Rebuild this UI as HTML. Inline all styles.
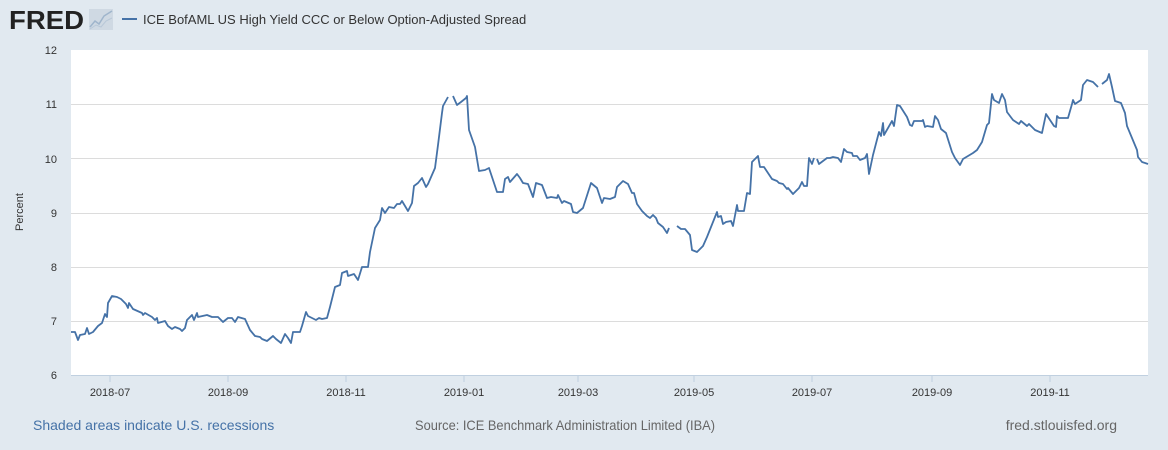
<!DOCTYPE html>
<html><head><meta charset="utf-8"><style>
html,body{margin:0;padding:0;background:#e1e9f0;}
svg{display:block;font-family:"Liberation Sans",Arial,sans-serif;}
</style></head><body>
<svg width="1168" height="450" viewBox="0 0 1168 450" xmlns="http://www.w3.org/2000/svg">
<rect width="1168" height="450" fill="#e1e9f0"/>
<text x="9" y="29" font-size="26" font-weight="bold" fill="#222" textLength="75" lengthAdjust="spacingAndGlyphs">FRED</text>
<rect x="89" y="9" width="24" height="21" fill="#cfd9e3"/>
<polyline points="90,27 95,21 99,24 104,16 112,11" fill="none" stroke="#9fb5cc" stroke-width="1.5"/>
<polyline points="90,29 96,25 101,27 106,21 112,18" fill="none" stroke="#b8c8d8" stroke-width="1"/>
<line x1="122" y1="19" x2="137" y2="19" stroke="#4572a7" stroke-width="2"/>
<text x="143" y="24" font-size="13" fill="#333">ICE BofAML US High Yield CCC or Below Option-Adjusted Spread</text>
<rect x="71" y="50" width="1077" height="325" fill="#fff"/>
<g stroke="#dcdcdc" stroke-width="1">
<line x1="71" y1="104.5" x2="1148" y2="104.5"/>
<line x1="71" y1="158.5" x2="1148" y2="158.5"/>
<line x1="71" y1="213.5" x2="1148" y2="213.5"/>
<line x1="71" y1="267.5" x2="1148" y2="267.5"/>
<line x1="71" y1="321.5" x2="1148" y2="321.5"/>
</g>
<line x1="71" y1="375.5" x2="1148" y2="375.5" stroke="#c0d0e0"/>
<g stroke="#c0d0e0">
<line x1="110" y1="375" x2="110" y2="382"/><line x1="228" y1="375" x2="228" y2="382"/>
<line x1="346" y1="375" x2="346" y2="382"/><line x1="464" y1="375" x2="464" y2="382"/>
<line x1="578" y1="375" x2="578" y2="382"/><line x1="694" y1="375" x2="694" y2="382"/>
<line x1="812" y1="375" x2="812" y2="382"/><line x1="932" y1="375" x2="932" y2="382"/>
<line x1="1050" y1="375" x2="1050" y2="382"/>
</g>
<g font-size="11" fill="#333" text-anchor="end">
<text x="57" y="54">12</text><text x="57" y="108">11</text><text x="57" y="163">10</text>
<text x="57" y="217">9</text><text x="57" y="271">8</text><text x="57" y="325">7</text><text x="57" y="379">6</text>
</g>
<g font-size="11" fill="#333" text-anchor="middle">
<text x="110" y="396">2018-07</text><text x="228" y="396">2018-09</text><text x="346" y="396">2018-11</text>
<text x="464" y="396">2019-01</text><text x="578" y="396">2019-03</text><text x="694" y="396">2019-05</text>
<text x="812" y="396">2019-07</text><text x="932" y="396">2019-09</text><text x="1050" y="396">2019-11</text>
</g>
<text transform="translate(23,212) rotate(-90)" font-size="11" fill="#333" text-anchor="middle">Percent</text>
<g fill="none" stroke="#4572a7" stroke-width="1.8" stroke-linejoin="round">
<polyline points="71,332 75,332 78,340 80,335 85,334 87,328 89,334 93,332 98,326 102,323 105,314 107,317 108,303 112,296 117,297 121,299 126,304 128,308 129,303 133,309 142,313 143,315 145,313 152,317 155,320 157,318 158,323 165,321 168,326 172,329 175,327 180,329 182,331 185,328 187,320 192,315 194,320 197,313 198,317 207,315 212,317 218,317 223,322 228,318 232,318 235,322 238,317 245,319 250,330 255,336 260,337 262,339 267,341 273,336 276,339 281,343 285,334 288,338 291,343 293,332 300,332 302,326 306,312 308,316 316,320 319,318 322,319 327,318 330,307 335,287 340,285 342,273 347,271 348,276 354,274 358,280 362,267 368,267 370,252 375,228 380,220 382,208 385,213 389,207 394,208 397,204 400,204 402,201 408,211 412,203 414,186 418,183 422,178 426,187 428,184 435,168 438,145 442,113 443,106 448,97"/>
<polyline points="453,96 457,105 461,102 466,98 467,96 469,130 475,147 479,171 485,170 489,168 493,180 497,192 503,192 505,179 508,177 510,182 517,174 520,178 523,183 528,184 533,197 536,183 542,185 547,198 551,197 557,198 558,195 562,203 564,201 571,204 573,212 577,213 583,208 591,183 597,188 602,203 604,198 610,199 615,197 617,187 623,181 628,184 632,193 634,193 637,204 642,211 647,216 650,218 653,215 656,218 658,223 663,227 667,233 669,228"/>
<polyline points="677,226 681,229 685,229 690,235 692,250 697,252 703,246 707,237 717,212 718,217 721,216 723,224 726,222 731,221 733,226 737,205 738,211 744,211 747,193 750,194 752,162 758,156 760,167 764,167 772,179 777,181 779,183 783,184 787,189 788,188 793,194 799,188 802,182 804,186 807,186 809,158 812,164 814,158"/>
<polyline points="817,159 819,164 827,158 830,158 833,157 838,158 841,162 844,149 847,152 852,153 853,156 857,156 860,160 865,158 867,154 869,174 873,155 879,132 881,136 883,123 884,135 892,121 894,126 897,105 900,106 907,117 910,125 912,126 914,121 922,121 923,120 925,127 927,126 933,127 935,116 938,120 941,129 946,133 952,152 955,158 960,165 963,159 968,156 973,153 977,150 982,142 987,125 989,123 992,94 994,100 999,103 1002,94 1005,100 1007,112 1013,120 1019,124 1021,121 1027,126 1029,124 1032,127 1035,130 1042,133 1046,114 1054,126 1056,127 1057,116 1059,118 1068,118 1072,104 1073,100 1075,104 1081,100 1083,85 1087,80 1093,82 1098,87"/>
<polyline points="1102,84 1107,80 1109,74 1112,87 1115,101 1121,103 1125,113 1127,126 1137,150 1138,157 1142,162 1148,164"/>
</g>
<text x="33" y="430" font-size="14" fill="#4572a7">Shaded areas indicate U.S. recessions</text>
<text x="415" y="430" font-size="14" fill="#666" textLength="300" lengthAdjust="spacingAndGlyphs">Source: ICE Benchmark Administration Limited (IBA)</text>
<text x="1117" y="430" font-size="14" fill="#666" text-anchor="end">fred.stlouisfed.org</text>
</svg>
</body></html>
